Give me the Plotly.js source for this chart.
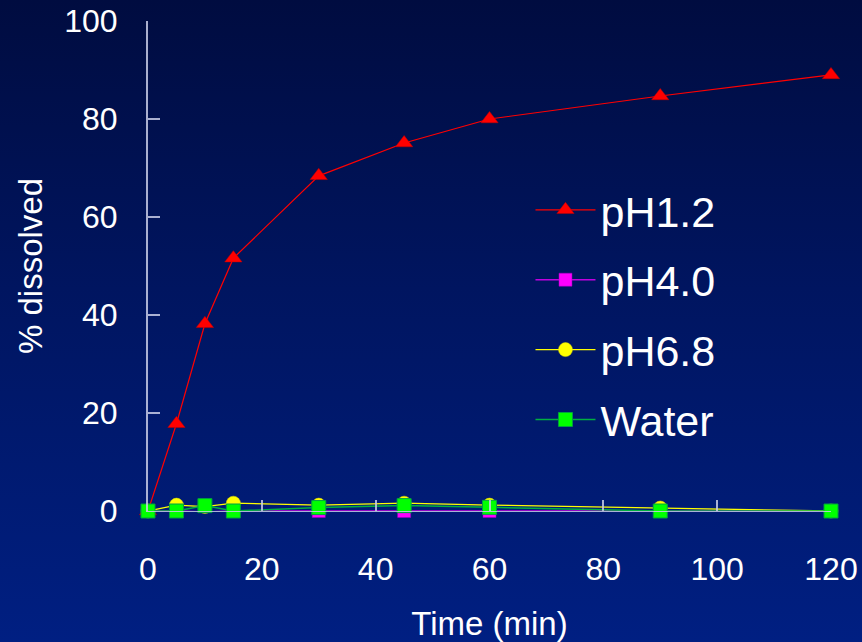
<!DOCTYPE html>
<html>
<head>
<meta charset="utf-8">
<script src="https://cdn.plot.ly/plotly-3.0.1.min.js"></script>
<style>
html,body{margin:0;padding:0;}
#chart{width:862px;height:642px;background:linear-gradient(to bottom,#000c40 0%,#001560 45%,#001f82 100%);}
</style>
</head>
<body>
<div id="chart"></div>
<script>
var time = [0, 5, 10, 15, 30, 45, 60, 90, 120];
var pH12 = [0, 17.8, 38.2, 51.6, 68.4, 75.1, 80.0, 84.7, 89.0];
var pH40 = [0, 0, -0.2, 0, 0, 0, 0, 0, 0];
var pH68 = [0, 1.2, 0.9, 1.6, 1.2, 1.6, 1.2, 0.6, 0];
var water = [0, 0, 1.1, 0, 0.7, 1.1, 0.75, 0, 0];
var seriesNames = ['pH1.2', 'pH4.0', 'pH6.8', 'Water'];

var traces = [
  {x: time, y: pH12, name: seriesNames[0], legendgroup: 'a', mode: 'lines+markers', cliponaxis: false,
   line: {color: '#ff0000', width: 1.2},
   marker: {symbol: 'triangle-up', size: 15, color: '#ff0000', line: {color: '#c00000', width: 0.5}}},
  {x: time, y: pH40, name: seriesNames[1], legendgroup: 'b', mode: 'lines+markers', cliponaxis: false,
   line: {color: '#c000e0', width: 1.5},
   marker: {symbol: 'square', size: 13, color: '#ff00ff', line: {color: '#a000c0', width: 0.5}}},
  {x: time, y: pH68, name: seriesNames[2], legendgroup: 'c', mode: 'lines+markers', cliponaxis: false,
   line: {color: '#ffff00', width: 1.3},
   marker: {symbol: 'circle', size: 14, color: '#ffff00', line: {color: '#e0e000', width: 0.5}}},
  {x: time, y: water, name: seriesNames[3], legendgroup: 'd', mode: 'lines+markers', cliponaxis: false,
   line: {color: '#00b040', width: 1.5},
   marker: {symbol: 'square', size: 14, color: '#00ff00', line: {color: '#00a040', width: 1}}}
];

var axisColor = 'rgba(200,205,230,0.85)';
var layout = {
  width: 862, height: 642,
  paper_bgcolor: 'rgba(0,0,0,0)',
  plot_bgcolor: 'rgba(0,0,0,0)',
  margin: {l: 148, r: 31, t: 21, b: 131},
  font: {family: 'Liberation Sans, Arial, sans-serif', color: '#ffffff', size: 32},
  showlegend: true,
  legend: {
    x: 0.56, y: 0.685, xanchor: 'left', yanchor: 'top',
    bgcolor: 'rgba(0,0,0,0)',
    font: {size: 43, color: '#ffffff'},
    itemwidth: 60,
    tracegroupgap: 11
  },
  xaxis: {
    range: [0, 120], tickvals: [0, 20, 40, 60, 80, 100, 120],
    showgrid: false, zeroline: false, showline: true, linecolor: axisColor, linewidth: 1,
    ticks: 'inside', ticklen: 11, tickcolor: axisColor, tickwidth: 2,
    ticklabelstandoff: 30,
    tickfont: {size: 32, color: '#ffffff'},
    title: {text: 'Time (min)', font: {size: 33, color: '#ffffff'}, standoff: 27}
  },
  yaxis: {
    range: [0, 100], tickvals: [0, 20, 40, 60, 80, 100],
    showgrid: false, zeroline: false, showline: true, linecolor: axisColor, linewidth: 2,
    ticks: 'inside', ticklen: 12, tickcolor: axisColor, tickwidth: 2,
    ticklabelstandoff: 22,
    tickfont: {size: 32, color: '#ffffff'},
    title: {text: '% dissolved', font: {size: 33, color: '#ffffff'}, standoff: 12}
  }
};

Plotly.newPlot('chart', traces, layout, {displayModeBar: false, staticPlot: true});
</script>
</body>
</html>
